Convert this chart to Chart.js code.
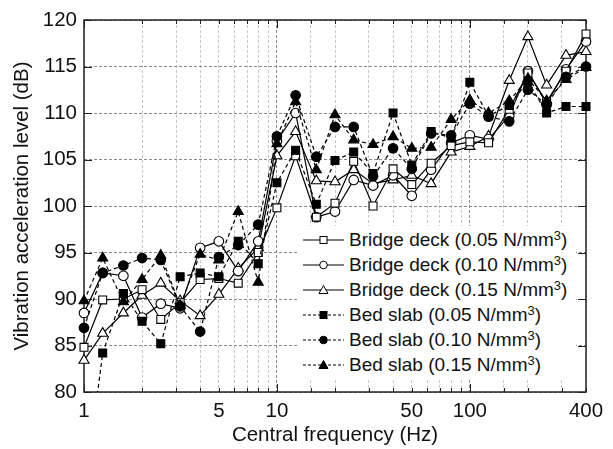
<!DOCTYPE html>
<html>
<head>
<meta charset="utf-8">
<title>Vibration acceleration level</title>
<script src="https://cdn.jsdelivr.net/npm/chart.js@4.4.1/dist/chart.umd.min.js"></script>
<style>
  body { margin: 0; background: #fff; }
  #wrap { position: relative; width: 613px; height: 449px; }
  #legend {
    position: absolute; left: 298px; top: 226px; width: 278px; height: 152px;
    background: #fff; color: #111;
    font-family: "Liberation Sans", Arial, sans-serif; font-size: 19px;
  }
  .item { position: absolute; left: 0; width: 278px; height: 24px; line-height: 24px; white-space: nowrap; }
  .item svg { position: absolute; left: 3px; top: 0; }
  .item span { position: absolute; left: 51px; top: 0; }
  sup { font-size: 0.68em; line-height: 0; vertical-align: 0.5em; }
</style>
</head>
<body>
<div id="wrap">
  <canvas id="chart" width="613" height="449"></canvas>
  <div id="legend"></div>
</div>
<script>
/*****************************************************
 * DATA => 1/3 octave band centres and levels (dB)
 *****************************************************/
const freqs = [1, 1.25, 1.6, 2, 2.5, 3.15, 4, 5, 6.3, 8, 10, 12.5, 16, 20, 25, 31.5, 40, 50, 63, 80, 100, 125, 160, 200, 250, 315, 400];

const bridgeDeck005 = [84.8, 89.9, 90.0, 91.0, 87.8, 89.6, 92.1, 92.2, 91.7, 95.0, 99.8, 105.4, 98.8, 100.3, 104.8, 100.0, 104.0, 102.3, 104.6, 106.5, 106.9, 106.8, 110.4, 114.3, 111.2, 114.5, 118.5];
const bridgeDeck010 = [88.5, 92.8, 92.5, 88.0, 89.5, 89.0, 95.5, 96.2, 93.0, 96.2, 107.0, 110.0, 98.8, 99.4, 102.8, 102.2, 103.3, 101.1, 103.9, 106.8, 107.6, 107.2, 109.7, 114.5, 111.0, 114.7, 117.7];
const bridgeDeck015 = [83.4, 86.3, 88.5, 90.4, 91.7, 89.8, 88.2, 90.5, 93.3, 95.5, 105.4, 108.0, 102.7, 102.6, 103.9, 102.4, 102.8, 103.3, 102.4, 105.8, 106.4, 107.5, 113.5, 118.2, 113.0, 116.2, 116.6];
const bedSlab005 = [68.5, 84.2, 90.6, 87.6, 85.2, 92.4, 92.8, 92.4, 96.2, 93.8, 102.5, 106.0, 100.2, 104.9, 105.8, 103.5, 110.0, 104.4, 108.0, 107.3, 113.3, 109.7, 110.8, 113.4, 110.0, 110.7, 110.7];
const bedSlab010 = [86.9, 92.8, 93.6, 94.4, 94.2, 89.2, 86.5, 94.5, 95.8, 98.0, 107.5, 111.9, 105.3, 108.5, 108.5, 103.2, 106.2, 104.0, 107.8, 107.6, 111.0, 109.6, 109.1, 112.5, 110.9, 113.9, 115.0];
const bedSlab015 = [89.8, 94.4, 89.7, 92.1, 94.7, 89.3, 94.8, 94.2, 99.4, 91.8, 106.7, 111.2, 103.9, 109.8, 107.1, 106.6, 107.45, 106.2, 106.3, 109.3, 111.4, 110.0, 111.3, 113.7, 111.3, 113.6, 114.9];

const xLabelled = [1, 5, 10, 50, 100, 400];
const loads = ["0.05", "0.10", "0.15"];

const series = [
  { name: "Bridge deck", load: loads[0], values: bridgeDeck005, shape: "rect" },
  { name: "Bridge deck", load: loads[1], values: bridgeDeck010, shape: "circle" },
  { name: "Bridge deck", load: loads[2], values: bridgeDeck015, shape: "triangle" },
  { name: "Bed slab", load: loads[0], values: bedSlab005, shape: "rect" },
  { name: "Bed slab", load: loads[1], values: bedSlab010, shape: "circle" },
  { name: "Bed slab", load: loads[2], values: bedSlab015, shape: "triangle" }
];

/*****************************************************
 * STYLE
 *****************************************************/
const FONT = "'Liberation Sans', Arial, sans-serif";
const INK = "#111";
const AXIS_SIZE = 20.5;
const radius = { rect: 5.6, circle: 4.8, triangle: 5.8 };
const isBed = s => s.name === "Bed slab";

const datasets = series.map(s => ({
  label: `${s.name} (${s.load} N/mm3)`,
  data: freqs.map((f, i) => ({ x: f, y: s.values[i] })),
  showLine: true,
  borderColor: "#000",
  borderWidth: 1.2,
  borderDash: isBed(s) ? [4, 3] : [],
  pointStyle: s.shape,
  pointRadius: radius[s.shape],
  pointBorderWidth: 1.1,
  pointBorderColor: "#000",
  pointBackgroundColor: isBed(s) ? "#000" : "#fff",
  order: isBed(s) ? 0 : 1,
  clip: { left: 8, right: 8, top: 8, bottom: 0 }
}));

// inward tick marks + plot frame, drawn under the series
const frameTicks = {
  id: "frameTicks",
  beforeDatasetsDraw(chart) {
    const { ctx, chartArea: a, scales: { x, y } } = chart;
    ctx.save();
    ctx.strokeStyle = "#222";
    ctx.lineWidth = 1;
    ctx.beginPath();
    y.ticks.forEach(t => {
      const py = Math.round(y.getPixelForValue(t.value)) + 0.5;
      const len = t.value % 5 === 0 ? 8 : 4;
      ctx.moveTo(a.left, py); ctx.lineTo(a.left + len, py);
      ctx.moveTo(a.right, py); ctx.lineTo(a.right - len, py);
    });
    x.ticks.forEach(t => {
      const px = Math.round(x.getPixelForValue(t.value)) + 0.5;
      const lg = Math.log10(t.value);
      const len = Math.abs(lg - Math.round(lg)) < 1e-6 ? 8 : 4;
      ctx.moveTo(px, a.bottom); ctx.lineTo(px, a.bottom - len);
      ctx.moveTo(px, a.top); ctx.lineTo(px, a.top + len);
    });
    ctx.stroke();
    ctx.lineWidth = 1.5;
    ctx.strokeRect(a.left, a.top, a.right - a.left, a.bottom - a.top);
    ctx.restore();
  }
};

const ctx = document.getElementById("chart").getContext("2d");
new Chart(ctx, {
  type: "scatter",
  data: { datasets },
  options: {
    responsive: false,
    animation: false,
    devicePixelRatio: 1,
    layout: { padding: { left: 0, top: 20, right: 27, bottom: 0 } },
    plugins: { legend: { display: false }, tooltip: { enabled: false } },
    scales: {
      x: {
        type: "logarithmic",
        min: 1,
        max: 400,
        afterFit: s => { s.height = 57; },
        border: { display: false, dash: [3, 2] },
        grid: {
          drawTicks: false,
          lineWidth: 1,
          color: c => (c.tick && (c.tick.value === 10 || c.tick.value === 100)) ? "#8a8a8a" : "#c6c6c6"
        },
        ticks: {
          autoSkip: false,
          maxRotation: 0,
          minRotation: 0,
          padding: 7,
          color: INK,
          font: { family: FONT, size: AXIS_SIZE },
          callback: v => xLabelled.some(t => Math.abs(t - v) < 1e-6) ? String(v) : ""
        },
        title: {
          display: true,
          text: "Central frequency (Hz)",
          color: INK,
          font: { family: FONT, size: AXIS_SIZE },
          padding: { top: 0, bottom: 1 }
        }
      },
      y: {
        min: 80,
        max: 120,
        afterFit: s => { s.width = 84; },
        border: { display: false, dash: [3, 2] },
        grid: {
          drawTicks: false,
          lineWidth: 1,
          color: c => (c.tick && c.tick.value % 5 === 0) ? "#8a8a8a" : "#c6c6c6"
        },
        ticks: {
          stepSize: 2.5,
          padding: 7,
          color: INK,
          font: { family: FONT, size: AXIS_SIZE },
          callback: v => v % 5 === 0 ? String(v) : ""
        },
        title: {
          display: true,
          text: "Vibration acceleration level (dB)",
          color: INK,
          font: { family: FONT, size: AXIS_SIZE },
          padding: { top: 10, bottom: 0 }
        }
      }
    }
  },
  plugins: [frameTicks]
});

/*****************************************************
 * LEGEND => line sample + marker, superscript unit
 *****************************************************/
function markerSvg(shape, filled) {
  const fill = filled ? "#000" : "#fff";
  if (shape === "rect") return `<rect x="19" y="8.5" width="7" height="7" fill="${fill}" stroke="#000" stroke-width="1"/>`;
  if (shape === "circle") return `<circle cx="22.5" cy="12" r="3.8" fill="${fill}" stroke="#000" stroke-width="1"/>`;
  return `<polygon points="22.5,7.5 27,15.5 18,15.5" fill="${fill}" stroke="#000" stroke-width="1"/>`;
}

const legendEl = document.getElementById("legend");
series.forEach((s, i) => {
  const row = document.createElement("div");
  row.className = "item";
  row.style.top = (2 + i * 25) + "px";
  const dash = isBed(s) ? 'stroke-dasharray="3,2"' : "";
  row.innerHTML =
    `<svg width="46" height="24"><line x1="2" y1="12" x2="43" y2="12" stroke="#000" stroke-width="1.2" ${dash}/>` +
    markerSvg(s.shape, isBed(s)) + `</svg>` +
    `<span>${s.name} (${s.load} N/mm<sup>3</sup>)</span>`;
  legendEl.appendChild(row);
});
</script>
</body>
</html>
